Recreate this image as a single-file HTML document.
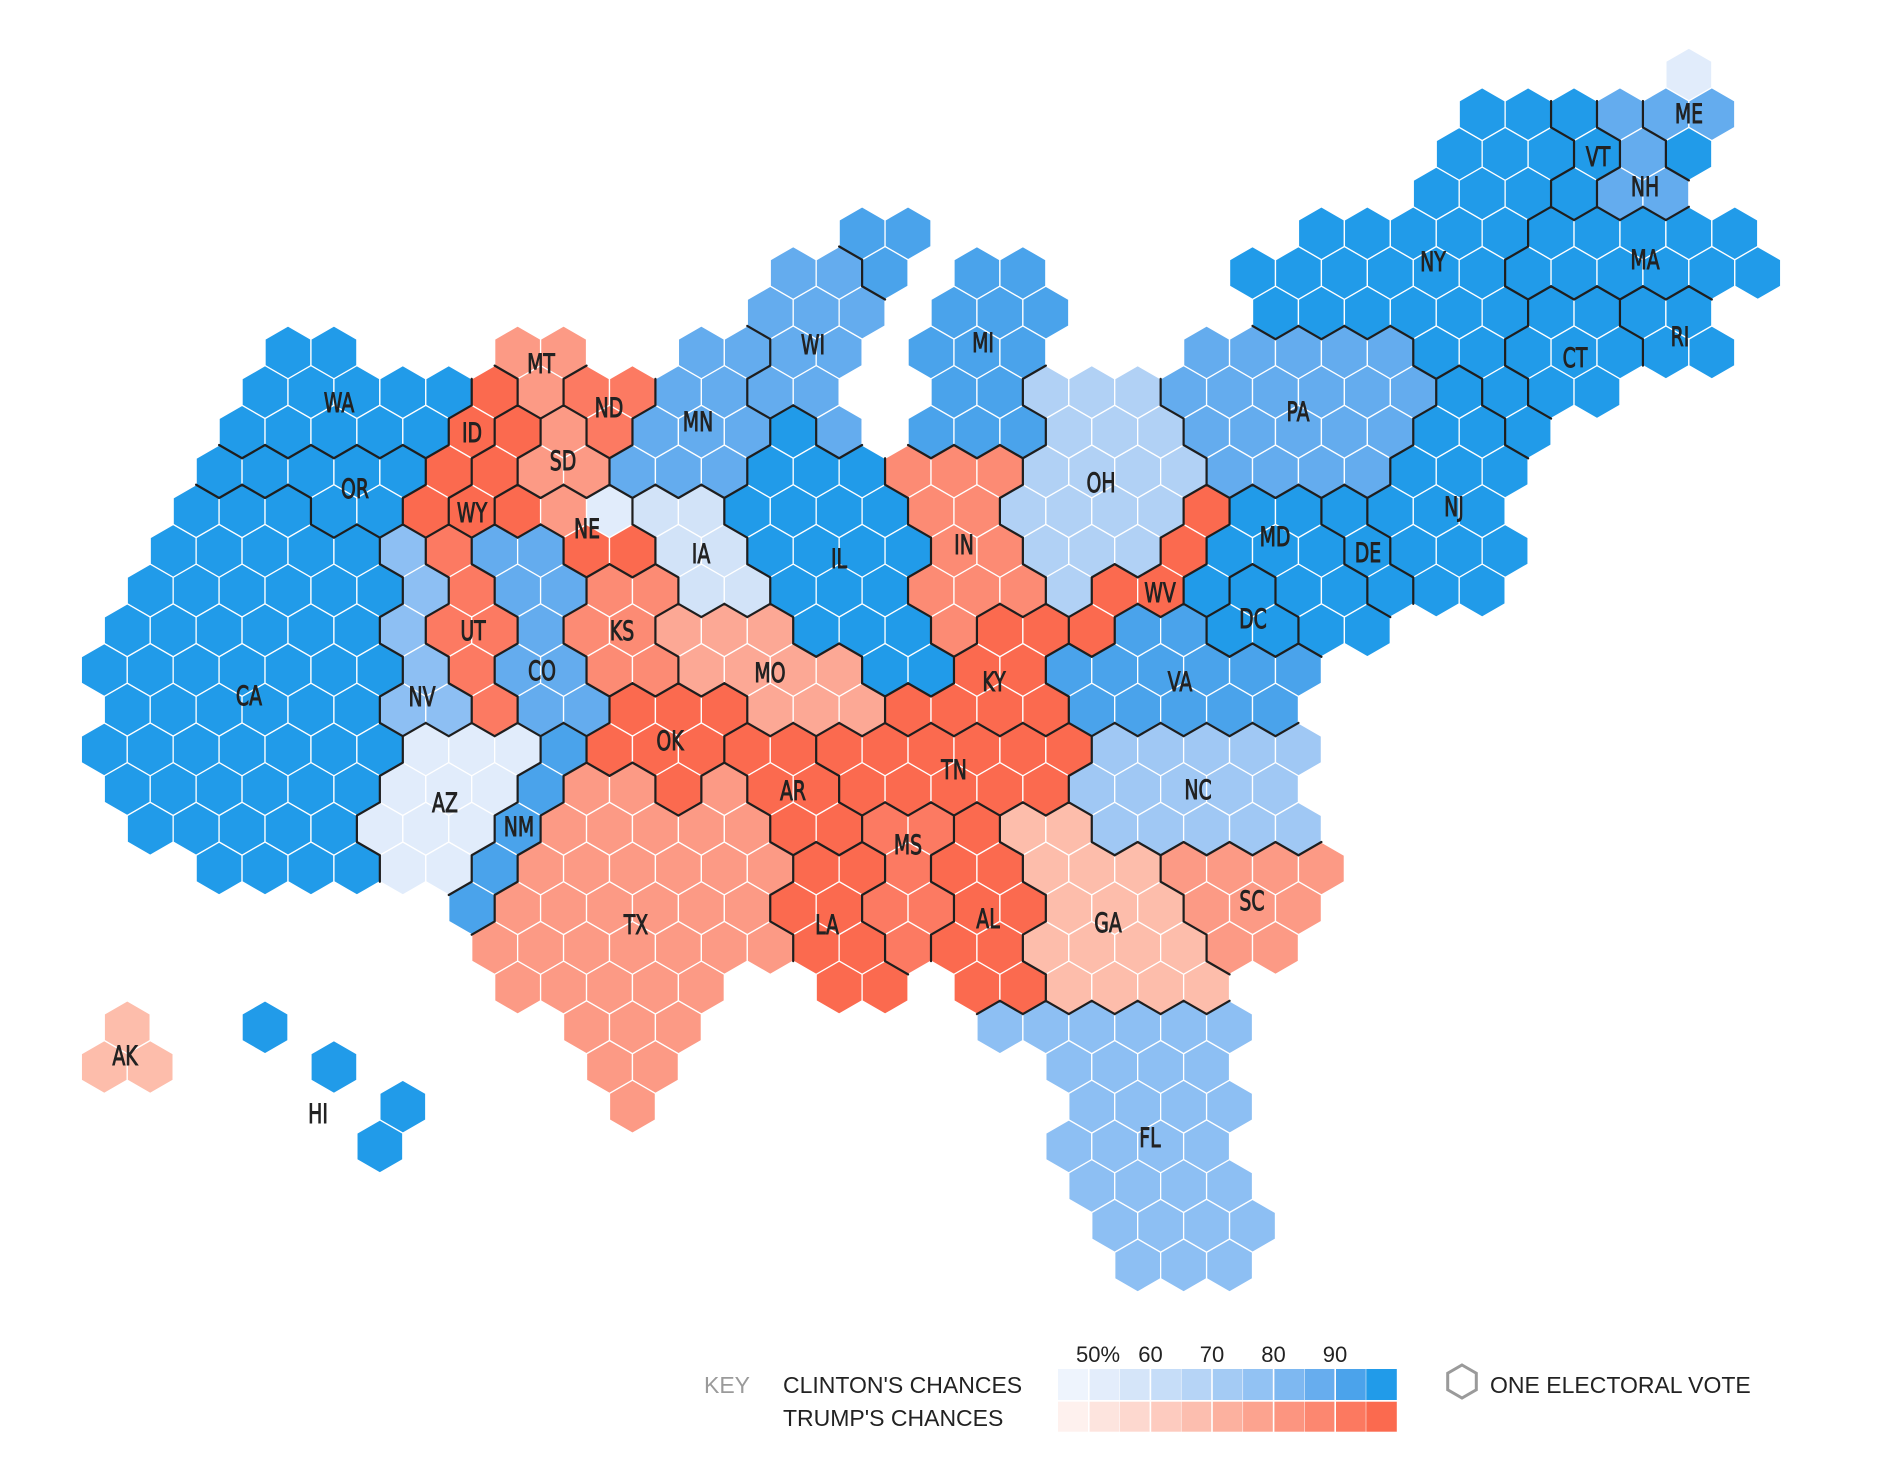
<!DOCTYPE html>
<html><head><meta charset="utf-8">
<style>
html,body{margin:0;padding:0;background:#fff;}
#c{position:relative;width:1888px;height:1464px;overflow:hidden;background:#fff;}
svg{position:absolute;left:0;top:0;}
#hex polygon{stroke:#fff;stroke-width:1.3;}
#bd path{stroke:#1e1e1e;stroke-width:2.2;fill:none;stroke-linecap:round;}
.lab text{font-family:"DejaVu Sans","Liberation Sans",sans-serif;font-size:27px;fill:#222;text-anchor:middle;stroke:#222;stroke-width:0.9px;}
.leg{font-family:"Liberation Sans","DejaVu Sans",sans-serif;font-size:23px;fill:#222;}
.num{font-family:"Liberation Sans","DejaVu Sans",sans-serif;font-size:22px;fill:#222;}
</style></head><body><div id="c">
<svg id="s" width="1888" height="1464" viewBox="0 0 1888 1464" xmlns="http://www.w3.org/2000/svg">
<g id="hex"></g>
<g id="bd"></g>
<g class="lab">
<text transform="translate(339,412) scale(0.7,1)">WA</text>
<text transform="translate(355,498) scale(0.7,1)">OR</text>
<text transform="translate(249,705) scale(0.7,1)">CA</text>
<text transform="translate(422,706) scale(0.7,1)">NV</text>
<text transform="translate(472,442) scale(0.7,1)">ID</text>
<text transform="translate(541,373) scale(0.7,1)">MT</text>
<text transform="translate(609,417) scale(0.7,1)">ND</text>
<text transform="translate(563,470) scale(0.7,1)">SD</text>
<text transform="translate(472,522) scale(0.7,1)">WY</text>
<text transform="translate(587,538) scale(0.7,1)">NE</text>
<text transform="translate(473,640) scale(0.7,1)">UT</text>
<text transform="translate(542,680) scale(0.7,1)">CO</text>
<text transform="translate(622,640) scale(0.7,1)">KS</text>
<text transform="translate(670,750) scale(0.7,1)">OK</text>
<text transform="translate(445,812) scale(0.7,1)">AZ</text>
<text transform="translate(519,836) scale(0.7,1)">NM</text>
<text transform="translate(636,934) scale(0.7,1)">TX</text>
<text transform="translate(698,431) scale(0.7,1)">MN</text>
<text transform="translate(701,563) scale(0.7,1)">IA</text>
<text transform="translate(813,354) scale(0.7,1)">WI</text>
<text transform="translate(983,352) scale(0.7,1)">MI</text>
<text transform="translate(839,568) scale(0.7,1)">IL</text>
<text transform="translate(964,554) scale(0.7,1)">IN</text>
<text transform="translate(1101,492) scale(0.7,1)">OH</text>
<text transform="translate(770,682) scale(0.7,1)">MO</text>
<text transform="translate(994,691) scale(0.7,1)">KY</text>
<text transform="translate(954,779) scale(0.7,1)">TN</text>
<text transform="translate(793,800) scale(0.7,1)">AR</text>
<text transform="translate(908,854) scale(0.7,1)">MS</text>
<text transform="translate(827,934) scale(0.7,1)">LA</text>
<text transform="translate(988,928) scale(0.7,1)">AL</text>
<text transform="translate(1108,932) scale(0.7,1)">GA</text>
<text transform="translate(1252,910) scale(0.7,1)">SC</text>
<text transform="translate(1198,799) scale(0.7,1)">NC</text>
<text transform="translate(1180,691) scale(0.7,1)">VA</text>
<text transform="translate(1160,602) scale(0.7,1)">WV</text>
<text transform="translate(1253,628) scale(0.7,1)">DC</text>
<text transform="translate(1275,546) scale(0.7,1)">MD</text>
<text transform="translate(1368,562) scale(0.7,1)">DE</text>
<text transform="translate(1454,516) scale(0.7,1)">NJ</text>
<text transform="translate(1298,421) scale(0.7,1)">PA</text>
<text transform="translate(1433,271) scale(0.7,1)">NY</text>
<text transform="translate(1575,367) scale(0.7,1)">CT</text>
<text transform="translate(1680,346) scale(0.7,1)">RI</text>
<text transform="translate(1645,269) scale(0.7,1)">MA</text>
<text transform="translate(1645,196) scale(0.7,1)">NH</text>
<text transform="translate(1598,166) scale(0.7,1)">VT</text>
<text transform="translate(1689,123) scale(0.7,1)">ME</text>
<text transform="translate(1150,1147) scale(0.7,1)">FL</text>
<text transform="translate(125,1065) scale(0.7,1)">AK</text>
<text transform="translate(318,1123) scale(0.7,1)">HI</text>
</g>
<!-- legend -->
<g>
<text class="leg" x="704" y="1393" style="fill:#9a9a9a">KEY</text>
<text class="leg" x="783" y="1393">CLINTON'S CHANCES</text>
<text class="leg" x="783" y="1426">TRUMP'S CHANCES</text>
<text class="num" x="1076" y="1362">50%</text>
<text class="num" x="1150.5" y="1362" text-anchor="middle">60</text>
<text class="num" x="1212" y="1362" text-anchor="middle">70</text>
<text class="num" x="1273.5" y="1362" text-anchor="middle">80</text>
<text class="num" x="1335" y="1362" text-anchor="middle">90</text>
<rect x="1058" y="1369" width="30.8" height="31" fill="#eef4fd"/>
<rect x="1088.8" y="1369" width="30.8" height="31" fill="#e3edfb"/>
<rect x="1119.6" y="1369" width="30.8" height="31" fill="#d5e5f9"/>
<rect x="1150.4" y="1369" width="30.8" height="31" fill="#c6ddf8"/>
<rect x="1181.2" y="1369" width="30.8" height="31" fill="#b6d4f6"/>
<rect x="1212" y="1369" width="30.8" height="31" fill="#a4cbf4"/>
<rect x="1242.8" y="1369" width="30.8" height="31" fill="#92c2f3"/>
<rect x="1273.6" y="1369" width="30.8" height="31" fill="#7eb8f1"/>
<rect x="1304.4" y="1369" width="30.8" height="31" fill="#67adee"/>
<rect x="1335.2" y="1369" width="30.8" height="31" fill="#4ba3eb"/>
<rect x="1366" y="1369" width="30.8" height="31" fill="#219be9"/>
<rect x="1058" y="1401.7" width="30.8" height="30" fill="#fef1ee"/>
<rect x="1088.8" y="1401.7" width="30.8" height="30" fill="#fde4de"/>
<rect x="1119.6" y="1401.7" width="30.8" height="30" fill="#fdd8cf"/>
<rect x="1150.4" y="1401.7" width="30.8" height="30" fill="#fdcbbf"/>
<rect x="1181.2" y="1401.7" width="30.8" height="30" fill="#fcbeaf"/>
<rect x="1212" y="1401.7" width="30.8" height="30" fill="#fcb19f"/>
<rect x="1242.8" y="1401.7" width="30.8" height="30" fill="#fca38f"/>
<rect x="1273.6" y="1401.7" width="30.8" height="30" fill="#fc9580"/>
<rect x="1304.4" y="1401.7" width="30.8" height="30" fill="#fc8770"/>
<rect x="1335.2" y="1401.7" width="30.8" height="30" fill="#fc7960"/>
<rect x="1366" y="1401.7" width="30.8" height="30" fill="#fb6a4f"/>
<g stroke="#fff">
<line x1="1088.8" y1="1369" x2="1088.8" y2="1432" stroke-width="1.6"/>
<line x1="1119.6" y1="1369" x2="1119.6" y2="1432" stroke-width="0.5"/>
<line x1="1150.4" y1="1369" x2="1150.4" y2="1432" stroke-width="1.6"/>
<line x1="1181.2" y1="1369" x2="1181.2" y2="1432" stroke-width="0.5"/>
<line x1="1212" y1="1369" x2="1212" y2="1432" stroke-width="1.6"/>
<line x1="1242.8" y1="1369" x2="1242.8" y2="1432" stroke-width="0.5"/>
<line x1="1273.6" y1="1369" x2="1273.6" y2="1432" stroke-width="1.6"/>
<line x1="1304.4" y1="1369" x2="1304.4" y2="1432" stroke-width="0.5"/>
<line x1="1335.2" y1="1369" x2="1335.2" y2="1432" stroke-width="1.6"/>
<line x1="1366" y1="1369" x2="1366" y2="1432" stroke-width="0.5"/>
</g>
<polygon points="1462,1365 1476.3,1373.25 1476.3,1389.75 1462,1398 1447.7,1389.75 1447.7,1373.25" fill="none" stroke="#9a9a9a" stroke-width="3"/>
<text class="leg" x="1490" y="1393">ONE ELECTORAL VOTE</text>
</g>
</svg>
</div>
<script>
(function(){
var B10='#219be9',B9='#4aa3eb',B8='#64acee',B6='#8dbff3',B5='#a0c8f4',B4='#b1d1f5',B2='#d2e3f8',B1='#e1ecfb';
var R10='#fb6a4f',R9='#fc7a62',R8='#fc8b74',R7='#fc9a85',R6='#fca895',R4='#fdbdab';
var S={
WA:[B10,[[7,9,11],[8,8,16],[9,7,15]]],
OR:[B10,[[10,6,14],[11,11,13]]],
CA:[B10,[[11,5,9],[12,4,12],[13,3,13],[14,2,12],[15,1,13],[16,2,12],[17,1,13],[18,2,12],[19,3,11],[20,6,12]]],
ID:[R10,[[8,18,18],[9,17,17],[10,16,16],[11,15,15]]],
WY:[R10,[[9,19,19],[10,18,18],[11,17,17]]],
MT:[R7,[[7,19,21],[8,20,20]]],
ND:[R9,[[8,22,24],[9,23,23]]],
SD:[R7,[[9,21,21],[10,20,22]]],
NE:[R10,[[11,19,23],[12,22,24]]],
MN:[B8,[[7,27,29],[8,26,28],[9,25,29],[10,24,28]]],
WI:[B8,[[5,31,33],[6,30,34],[7,31,33],[8,30,32],[9,33,33]]],
MI:[B9,[[4,34,36],[5,35,35],[5,39,41],[6,38,42],[7,37,41],[8,38,40],[9,37,41]]],
IA:[B2,[[11,25,27],[12,26,28],[13,27,29]]],
IL:[B10,[[9,31,31],[10,30,34],[11,29,35],[12,30,36],[13,31,35],[14,32,36],[15,35,37]]],
IN:[R8,[[10,36,40],[11,37,39],[12,38,40],[13,37,41],[14,38,38]]],
OH:[B4,[[8,42,46],[9,43,47],[10,42,48],[11,41,47],[12,42,46],[13,43,43]]],
PA:[B8,[[7,49,57],[8,48,58],[9,49,57],[10,50,56]]],
NY:[B10,[[1,61,63],[2,60,64],[3,59,63],[4,54,62],[5,51,61],[6,52,62],[7,59,61],[8,62,62],[9,63,63]]],
VT:[B10,[[1,65,65],[2,66,66],[3,65,65]]],
NH:[B8,[[1,67,67],[2,68,68],[3,67,69]]],
ME:[B8,[[0,70,70],[1,69,71],[2,70,70]]],
MA:[B10,[[4,64,72],[5,63,73]]],
CT:[B10,[[6,64,66],[7,63,67],[8,64,66]]],
RI:[B10,[[6,68,70],[7,69,71]]],
NJ:[B10,[[8,60,60],[9,59,61],[10,58,62],[11,57,61],[12,58,62],[13,59,61]]],
DE:[B10,[[11,55,55],[12,56,56],[13,57,57]]],
MD:[B10,[[11,51,53],[12,50,54],[13,49,49],[13,53,55],[14,54,56]]],
DC:[B10,[[13,51,51],[14,50,52]]],
WV:[R10,[[11,49,49],[12,48,48],[13,45,47],[14,44,44]]],
VA:[B9,[[14,46,48],[15,43,53],[16,44,52]]],
KY:[R10,[[14,40,42],[15,39,41],[16,36,42]]],
TN:[R10,[[17,33,43],[18,34,42]]],
NC:[B5,[[17,45,53],[18,44,52],[19,45,53]]],
SC:[R7,[[20,48,54],[21,49,53],[22,50,52]]],
GA:[R4,[[19,41,43],[20,42,46],[21,43,47],[22,42,48],[23,43,49]]],
FL:[B6,[[24,40,50],[25,43,49],[26,44,50],[27,43,49],[28,44,50],[29,45,51],[30,46,50]]],
AL:[R10,[[19,39,39],[20,38,40],[21,39,41],[22,38,40],[23,39,41]]],
MS:[R9,[[19,35,37],[20,36,36],[21,35,37],[22,36,36]]],
LA:[R10,[[20,32,34],[21,31,33],[22,32,34],[23,33,35]]],
AR:[R10,[[17,29,31],[18,30,32],[19,31,33]]],
MO:[R6,[[14,26,30],[15,27,33],[16,30,34]]],
KS:[R8,[[13,23,25],[14,22,24],[15,23,25]]],
OK:[R10,[[16,24,28],[17,23,27],[18,26,26]]],
TX:[R7,[[18,22,24],[18,28,28],[19,21,29],[20,20,30],[21,19,29],[22,18,30],[23,19,27],[24,22,26],[25,23,25],[26,24,24]]],
NM:[B9,[[17,21,21],[18,20,20],[19,19,19],[20,18,18],[21,17,17]]],
CO:[B8,[[12,18,20],[13,19,21],[14,20,20],[15,19,21],[16,20,22]]],
UT:[R9,[[12,16,16],[13,17,17],[14,16,18],[15,17,17],[16,18,18]]],
NV:[B6,[[12,14,14],[13,15,15],[14,14,14],[15,15,15],[16,14,16]]],
AZ:[B1,[[17,15,19],[18,14,18],[19,13,17],[20,14,16]]],
AK:[R4,[[24,2,2],[25,1,3]]],
HI:[B10,[[24,8,8],[25,11,11],[26,14,14],[27,13,13]]]
};
var OV={'70,0':B1,'70,2':B10,'23,11':B1,'21,11':R7};
var HW=22.965,R=26.5;
function X(q){return 81.3+HW*q;}
function Y(k){return 74.5+39.7*k;}
var V=[[0,-R],[HW,-R/2],[HW,R/2],[0,R],[-HW,R/2],[-HW,-R/2]];
var N=[[1,-1],[2,0],[1,1],[-1,1],[-2,0],[-1,-1]];
var grid={},list=[];
for(var st in S){var c=S[st][0],rs=S[st][1];
 for(var i=0;i<rs.length;i++){var k=rs[i][0];
  for(var q=rs[i][1];q<=rs[i][2];q+=2){var key=q+','+k;grid[key]=st;list.push([q,k,OV[key]||c,st]);}}}
var ns='http://www.w3.org/2000/svg';
var gh=document.getElementById('hex'),gb=document.getElementById('bd');
var d='';
for(var j=0;j<list.length;j++){var h=list[j];var cx=X(h[0]),cy=Y(h[1]);
 var pts=[];for(var v=0;v<6;v++){pts.push((cx+V[v][0]).toFixed(2)+','+(cy+V[v][1]).toFixed(2));}
 var p=document.createElementNS(ns,'polygon');p.setAttribute('points',pts.join(' '));p.setAttribute('fill',h[2]);gh.appendChild(p);
 for(var e=0;e<6;e++){var nk=(h[0]+N[e][0])+','+(h[1]+N[e][1]);var o=grid[nk];
  if(o&&o!==h[3]){var a=V[e],b=V[(e+1)%6];
   d+='M'+(cx+a[0]).toFixed(2)+' '+(cy+a[1]).toFixed(2)+'L'+(cx+b[0]).toFixed(2)+' '+(cy+b[1]).toFixed(2);}}
}
var path=document.createElementNS(ns,'path');path.setAttribute('d',d);gb.appendChild(path);
})();
</script>
</body></html>
